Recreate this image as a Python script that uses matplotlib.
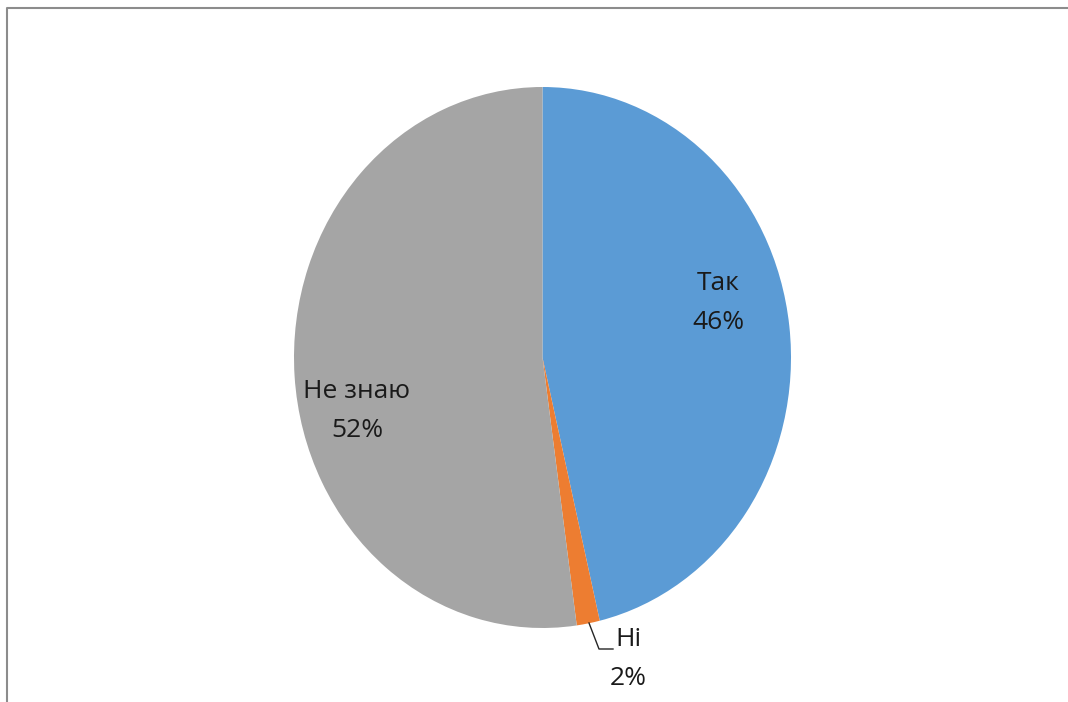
import matplotlib.pyplot as plt
from matplotlib.lines import Line2D

labels = ["Так", "Ні", "Не знаю"]
values = [46.3, 1.5, 52.2]
colors = ["#5B9BD5", "#ED7D31", "#A5A5A5"]

W, H = 1068, 702
fig = plt.figure(figsize=(W / 100, H / 100), dpi=100)
ax = fig.add_axes([0, 0, 1, 1])

# pie centre / radii in pixels (Excel stretched the pie into an ellipse)
cx, cy = 542.5, 357.5
rx, ry = 248.5, 270.5

wedges, _ = ax.pie(values, colors=colors, startangle=90, counterclock=False,
                   wedgeprops=dict(linewidth=0))
ax.set_aspect("auto")
ax.set_xlim(-cx / rx, (W - cx) / rx)
ax.set_ylim(-(H - cy) / ry, cy / ry)
ax.axis("off")

txt = [f"{l}\n{v:.0f}%" for l, v in zip(labels, values)]
font = dict(family="Open Sans", fontsize=19, color="#1a1a1a", linespacing=1.72)

def px(x, y):
    return ((x - cx) / rx, (cy - y) / ry)

ax.text(*px(718, 303), txt[0], ha="center", va="center", **font)
ax.text(*px(357, 411), txt[2], ha="center", va="center", **font)
ax.text(*px(628, 659), txt[1], ha="center", va="center", **font)

# leader line for the small slice
lx, ly = zip(px(589, 623), px(599, 649), px(613, 649))
ax.plot(lx, ly, color="#262626", lw=1)

# chart frame (only left and top visible)
fig.add_artist(Line2D([7 / W, 7 / W, 1], [0, 1 - 8 / H, 1 - 8 / H],
                      transform=fig.transFigure, color="#8c8c8c", lw=1.5))

fig.savefig("out.png", dpi=100)
